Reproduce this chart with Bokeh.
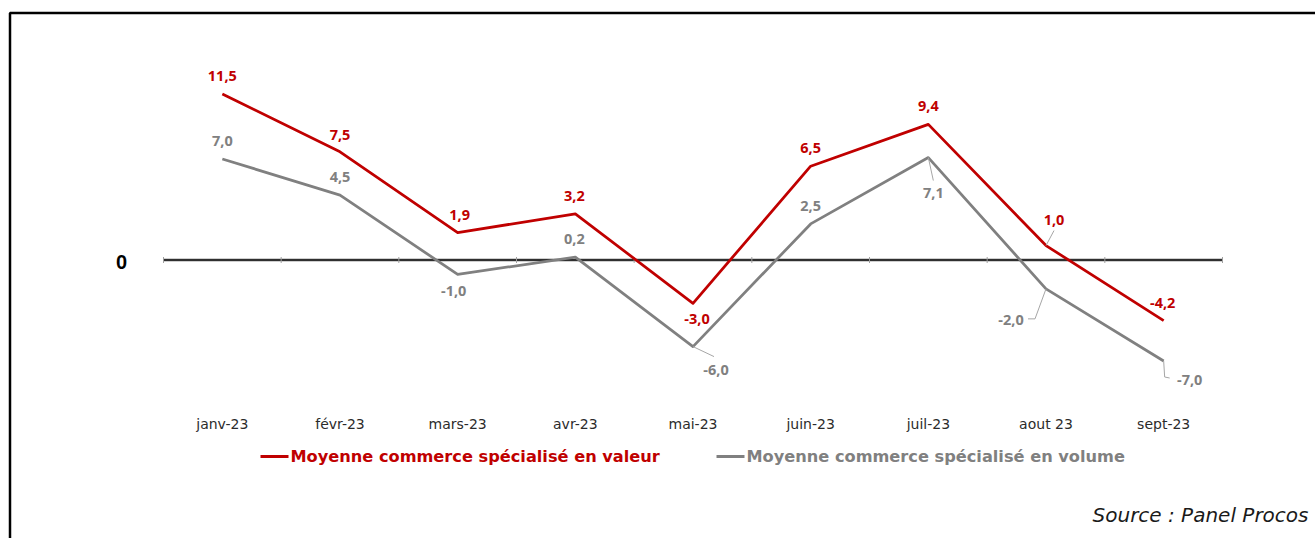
from bokeh.plotting import figure
from bokeh.models import Range1d
from bokeh.core.properties import value
from bokeh.embed import file_html
from bokeh.resources import INLINE

# ---------------- data ----------------
categories = ["janv-23", "févr-23", "mars-23", "avr-23", "mai-23",
              "juin-23", "juil-23", "aout 23", "sept-23"]
valeur = [11.5, 7.5, 1.9, 3.2, -3.0, 6.5, 9.4, 1.0, -4.2]
volume = [7.0, 4.5, -1.0, 0.2, -6.0, 2.5, 7.1, -2.0, -7.0]
series_names = ["Moyenne commerce spécialisé en valeur",
                "Moyenne commerce spécialisé en volume"]
zero_label = "0"
source_text = "Source : Panel Procos"

# ---------------- layout (pixels) ----------------
W, H = 1315, 538
X_LEFT_PX, X_RIGHT_PX = 163, 1222
Y_ZERO_PX = 259.5
PX_PER_UNIT = 14.43

RED = "#C00000"
GREY = "#808080"
LEADER = "#A6A6A6"

n = len(categories)
ppx = (X_RIGHT_PX - X_LEFT_PX) / n
x_start = -X_LEFT_PX / ppx
x_end = n + (W - X_RIGHT_PX) / ppx
y_end = Y_ZERO_PX / PX_PER_UNIT
y_start = (Y_ZERO_PX - H) / PX_PER_UNIT


def px_x(px):
    return (px - X_LEFT_PX) / ppx


def px_y(py):
    return (Y_ZERO_PX - py) / PX_PER_UNIT


xs = [i + 0.5 for i in range(n)]


def fmt(v):
    return f"{v:.1f}".replace(".", ",")


p = figure(width=W, height=H, x_range=Range1d(x_start, x_end),
           y_range=Range1d(y_start, y_end), min_border=0,
           min_border_left=0, min_border_right=0, min_border_top=0,
           min_border_bottom=0, x_axis_location=None, y_axis_location=None,
           output_backend="svg", toolbar_location=None)
p.grid.grid_line_color = None
p.outline_line_color = None
p.background_fill_color = "white"
p.border_fill_color = "white"

# outer frame (left and top border)
p.line([px_x(9.5), px_x(9.5), px_x(W + 10)], [px_y(H + 10), px_y(12.5), px_y(12.5)],
       line_color="black", line_width=2.5)

# zero line with ticks
p.line([0, n], [0, 0], line_color="#BFBFBF", line_width=3.5)
p.line([0, n], [0, 0], line_color="black", line_width=1.6)
p.segment(x0=list(range(n + 1)), y0=[3 / PX_PER_UNIT] * (n + 1),
          x1=list(range(n + 1)), y1=[-3 / PX_PER_UNIT] * (n + 1),
          line_color="#A0A0A0", line_width=1)

# series lines
p.line(xs, volume, line_color=GREY, line_width=2.75, line_join="round")
p.line(xs, valeur, line_color=RED, line_width=2.75, line_join="round")

# label offsets (screen px: dx, dy; dy positive = down)
red_off = [(0, -18), (0, -17), (2, -18), (-1, -18), (4, 16),
           (0, -18), (0, -18), (8, -26), (-1, -18)]
grey_off = [(0, -18), (0, -18), (-4, 17), (-1, -18), (23, 23),
            (0, -18), (5, 35), (-35, 31), (26, 19)]

# leader lines: index -> list of pixel offsets from point
red_leaders = {7: [(0, 0), (8, -15)]}
grey_leaders = {4: [(0, 0), (21, 10)],
                6: [(0, 0), (5, 23)],
                7: [(0, 0), (-11, 30), (-18, 30)],
                8: [(0, 0), (1, 16), (6, 17)]}

lx, ly = [], []
for leaders, vals in ((red_leaders, valeur), (grey_leaders, volume)):
    for i, pts in leaders.items():
        lx.append([xs[i] + dx / ppx for dx, dy in pts])
        ly.append([vals[i] - dy / PX_PER_UNIT for dx, dy in pts])
p.multi_line(lx, ly, line_color=LEADER, line_width=1)

for vals, offs, col in ((valeur, red_off, RED), (volume, grey_off, GREY)):
    p.text(x=xs, y=vals, text=[fmt(v) for v in vals],
           x_offset=[o[0] for o in offs], y_offset=[o[1] for o in offs],
           text_align="center", text_baseline="middle",
           text_font=value("Open Sans"), text_font_style="bold",
           text_font_size="14.5px", text_color=col)

# category labels
p.text(x=xs, y=[px_y(423)] * n, text=categories, text_align="center",
       text_baseline="middle", text_font=value("DejaVu Sans"),
       text_font_size="14px", text_color="#2B2B2B")

# "0" label
p.text(x=[px_x(121)], y=[0], text=[zero_label], y_offset=[2], text_align="center",
       text_baseline="middle", text_font=value("Liberation Sans"),
       text_font_style="bold", text_font_size="20px", text_color="black")

# legend
leg_y = px_y(456)
p.line([px_x(260), px_x(288)], [leg_y, leg_y], line_color=RED, line_width=3)
p.text(x=[px_x(290)], y=[leg_y], text=[series_names[0]], text_align="left",
       text_baseline="middle", text_font=value("DejaVu Sans"),
       text_font_style="bold", text_font_size="16.2px", text_color=RED)
p.line([px_x(716), px_x(744)], [leg_y, leg_y], line_color=GREY, line_width=3)
p.text(x=[px_x(746)], y=[leg_y], text=[series_names[1]], text_align="left",
       text_baseline="middle", text_font=value("DejaVu Sans"),
       text_font_style="bold", text_font_size="16.2px", text_color=GREY)

# source
p.text(x=[px_x(1308)], y=[px_y(514)], text=[source_text], text_align="right",
       text_baseline="middle", text_font=value("DejaVu Sans"),
       text_font_style="italic", text_font_size="20px", text_color="#1A1A1A")

open("out.html", "w").write(file_html(p, INLINE))
